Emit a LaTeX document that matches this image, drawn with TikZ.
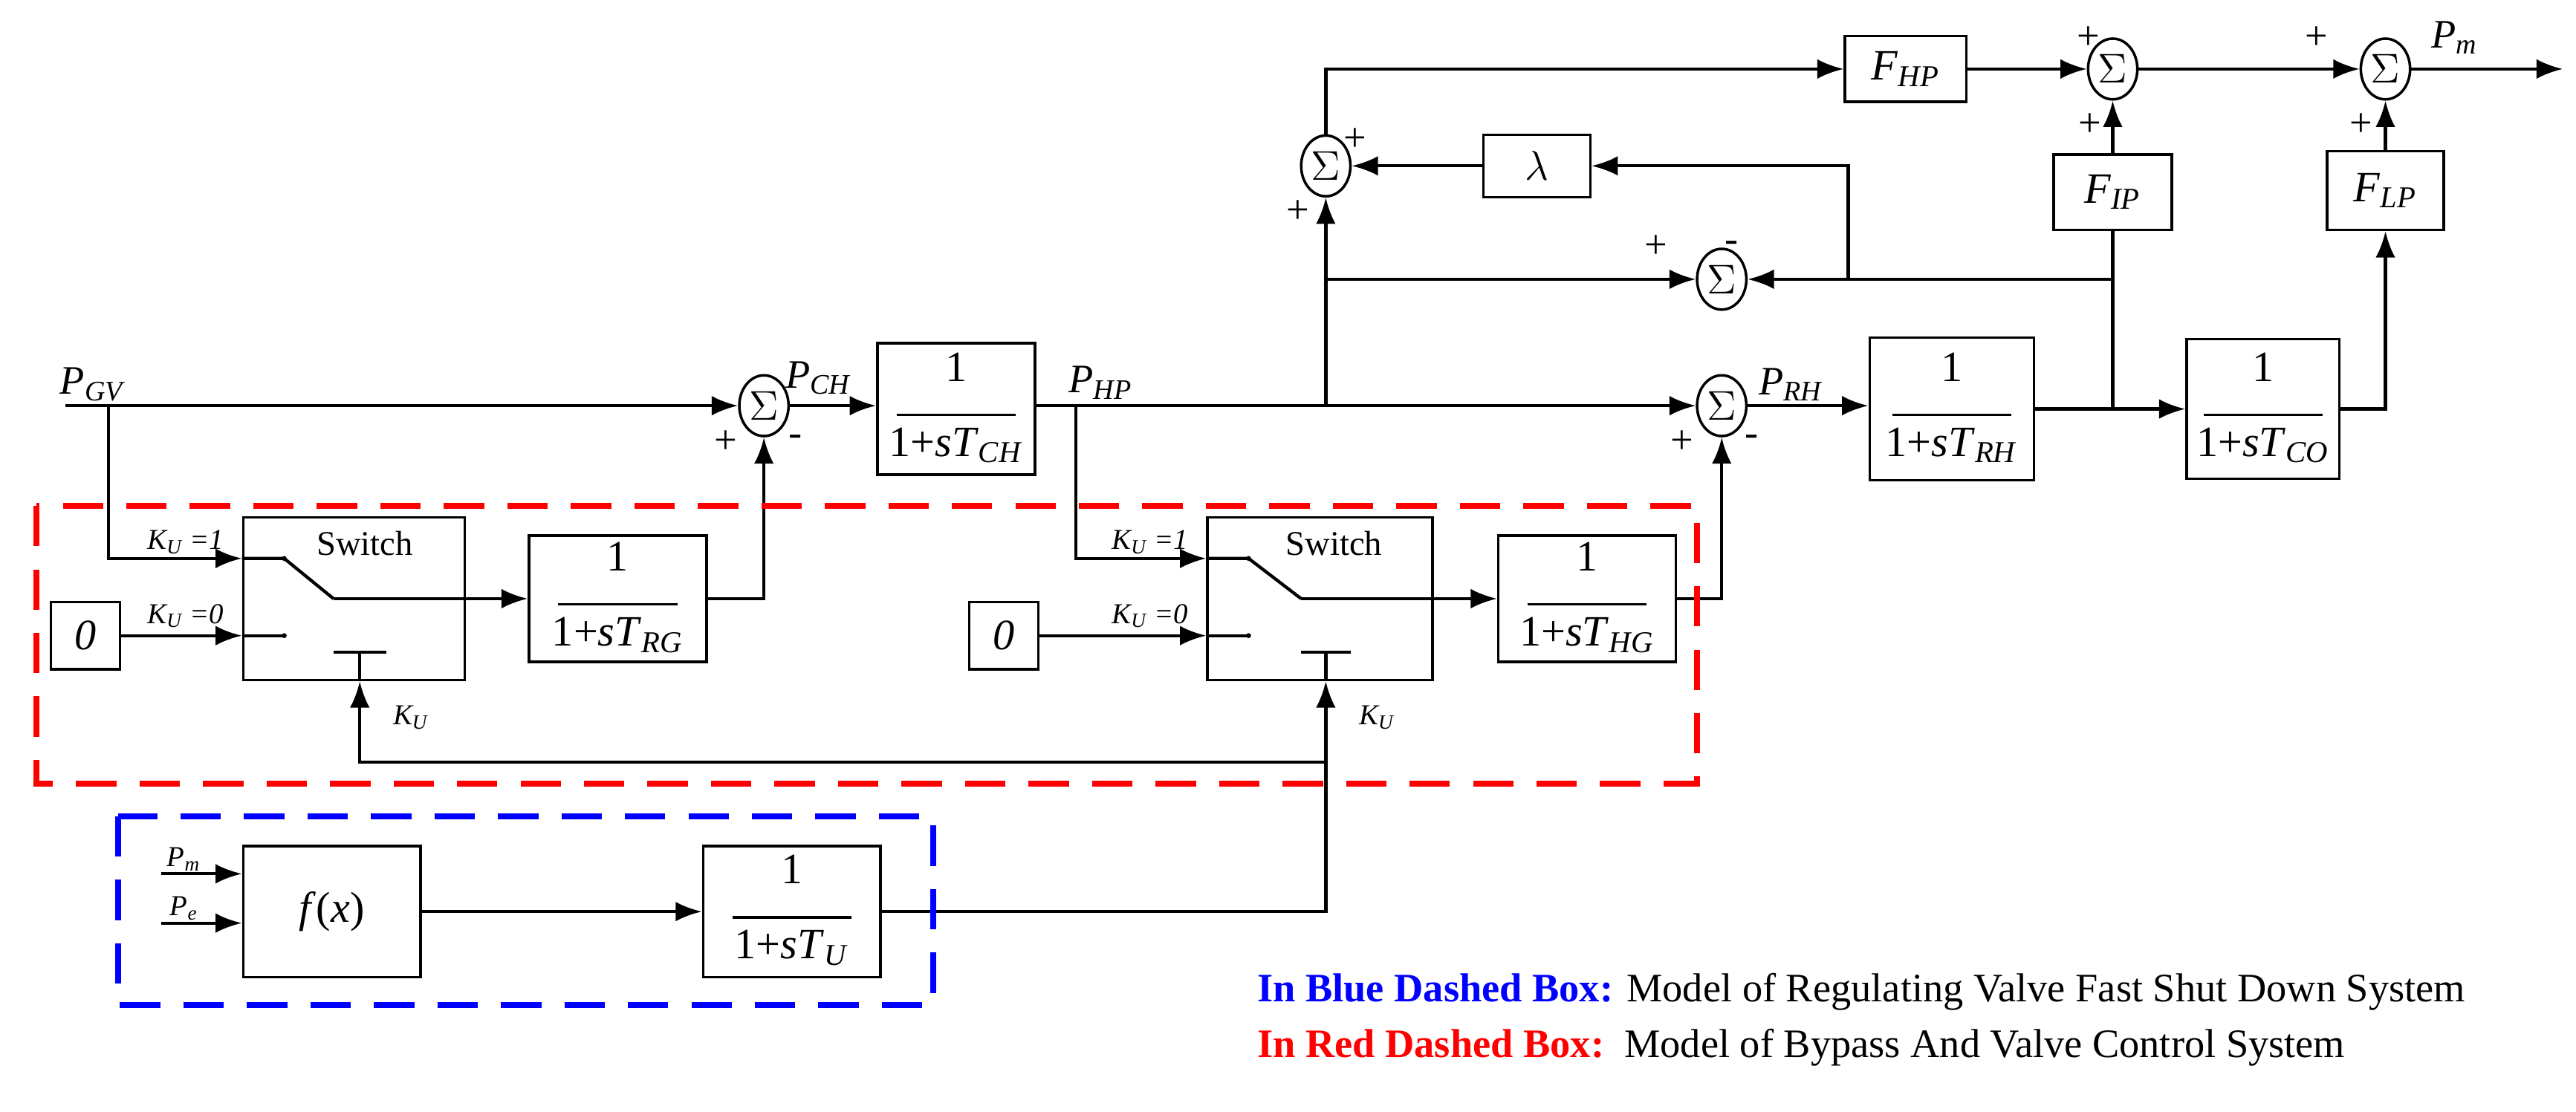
\documentclass[tikz,border=0pt]{standalone}
\usepackage{fontspec}
\setmainfont{Liberation Serif}
\usetikzlibrary{shapes.geometric,arrows.meta}
\newcommand\frc[1]{\begin{tabular}{@{}c@{}}1\\[-5pt]\rule{1.45cm}{0.8pt}\\[-3pt]1+\textit{sT}\textsubscript{\textit{#1}}\end{tabular}}
\begin{document}
\begin{tikzpicture}[x=0.02cm,y=-0.02cm,
  blk/.style={draw,line width=0.9pt,inner sep=0pt,font=\fontsize{15}{17}\selectfont},
  sm/.style={draw,ellipse,line width=0.9pt,minimum width=0.6cm,minimum height=0.74cm,inner sep=0pt,font=\fontsize{14}{16}\selectfont},
  ln/.style={line width=1.1pt},
  ar/.style={line width=1.1pt,-{Latex[length=0.32cm,width=0.24cm]}},
  lab/.style={font=\fontsize{14}{16}\selectfont\itshape,inner sep=1pt},
  sl/.style={font=\fontsize{10}{12}\selectfont\itshape,inner sep=1pt},
  pm/.style={font=\fontsize{14}{16}\selectfont,inner sep=0pt}]
\useasboundingbox (0,0) rectangle (1568,677);
% blocks
\node[blk,minimum width=2.7cm,minimum height=1.98cm] (sw1) at (215.5,364.5) {};
\node[font=\fontsize{12}{14}\selectfont] (swt1) at (222,331) {Switch};
\node[blk,minimum width=2.16cm,minimum height=1.54cm] (rg) at (376,364.5) {\frc{RG}};
\node[blk,minimum width=0.84cm,minimum height=0.82cm] (z1) at (52,387) {\textit{0}};
\node[blk,minimum width=1.92cm,minimum height=1.6cm] (ch) at (582,249) {\frc{CH}};
\node[blk,minimum width=2.74cm,minimum height=1.98cm] (sw2) at (803.5,364.5) {};
\node[font=\fontsize{12}{14}\selectfont] (swt2) at (812,331) {Switch};
\node[blk,minimum width=0.84cm,minimum height=0.82cm] (z2) at (611,387) {\textit{0}};
\node[blk,minimum width=2.16cm,minimum height=1.54cm] (hg) at (966,364.5) {\frc{HG}};
\node[blk,minimum width=2cm,minimum height=1.74cm] (rh) at (1188,249) {\frc{RH}};
\node[blk,minimum width=1.86cm,minimum height=1.7cm] (co) at (1377.5,249) {\frc{CO}};
\node[blk,minimum width=1.48cm,minimum height=0.8cm] (fhp) at (1160,42) {\textit{F}\textsubscript{\textit{HP}}};
\node[blk,minimum width=1.3cm,minimum height=0.76cm] (lam) at (935.5,101) {$\lambda$};
\node[blk,minimum width=1.44cm,minimum height=0.92cm] (fip) at (1286,117) {\textit{F}\textsubscript{\textit{IP}}};
\node[blk,minimum width=1.42cm,minimum height=0.96cm] (flp) at (1452,116) {\textit{F}\textsubscript{\textit{LP}}};
\node[blk,minimum width=2.16cm,minimum height=1.6cm] (fx) at (202,555) {\textit{f}(\textit{x})};
\node[blk,minimum width=2.16cm,minimum height=1.6cm] (tu) at (482,555) {\frc{U}};
% sums
\node[sm] (s1) at (465,247) {$\Sigma$};
\node[sm] (s2) at (1048,247) {$\Sigma$};
\node[sm] (s3) at (807,101) {$\Sigma$};
\node[sm] (s4) at (1048,170) {$\Sigma$};
\node[sm] (s5) at (1286,42) {$\Sigma$};
\node[sm] (s6) at (1452,42) {$\Sigma$};
% coordinates
\coordinate (pgv) at (40,247);
\coordinate (b1) at (66,247);
\coordinate (c1a) at (173,340);
\coordinate (c1b) at (203,364.5);
\coordinate (c1c) at (173,387);
\coordinate (b2) at (655,247);
\coordinate (c2a) at (760,340);
\coordinate (c2b) at (792,364.5);
\coordinate (c2c) at (760,387);
\coordinate (b3) at (807,247);
\coordinate (b4) at (807,170);
\coordinate (j1) at (1125,170);
\coordinate (b5) at (1286,249);
\coordinate (ku) at (807,464);
\coordinate (out) at (1560,42);
\coordinate (pmi) at (98,532);
\coordinate (pei) at (98,562);
% main path
\draw[ar] (pgv) -- (s1.west);
\draw[ar] (s1.east) -- (ch.west |- s1.east);
\draw[ln] (ch.east |- b2) -- (b2);
\draw[ar] (b2) -- (s2.west);
\draw[ar] (s2.east) -- (rh.west |- s2.east);
\draw[ar] (rh.east) -- (co.west);
\draw[ar] (co.east) -| (flp.south);
\draw[ar] (flp.north) -- (s6.south);
\draw[ar] (fip.north) -- (s5.south);
\draw[ar] (s5.east) -- (s6.west);
\draw[ar] (s6.east) -- (out);
\draw[ar] (s3.north) |- (fhp.west);
\draw[ar] (fhp.east) -- (s5.west);
\draw[ar] (b3) -- (s3.south);
\draw[ar] (b4) -- (s4.west);
\draw[ar] (b5) |- (s4.east);
\draw[ln] (fip.south) -- (b5);
\draw[ar] (j1) |- (lam.east);
\draw[ar] (lam.west) -- (s3.east);
% switch 1
\draw[ar] (b1) |- (sw1.west |- c1a);
\draw[ln] (sw1.west |- c1a) -- (c1a) -- (c1b);
\draw[ar] (c1b) -- (rg.west);
\draw[ar] (z1.east |- c1c) -- (sw1.west |- c1c);
\draw[ln] (sw1.west |- c1c) -- (c1c);
\fill (c1a) circle (1.5); \fill (c1c) circle (1.5);
\draw[ln] (203,397) -- (235,397);
\draw[ln] (219,397) -- (sw1.south -| 219,0);
\draw[ar] (ku) -- (219,464) -- (sw1.south -| 219,0);
\draw[ar] (rg.east) -| (s1.south);
% switch 2
\draw[ar] (b2) |- (sw2.west |- c2a);
\draw[ln] (sw2.west |- c2a) -- (c2a) -- (c2b);
\draw[ar] (c2b) -- (hg.west);
\draw[ar] (z2.east |- c2c) -- (sw2.west |- c2c);
\draw[ln] (sw2.west |- c2c) -- (c2c);
\fill (c2a) circle (1.5); \fill (c2c) circle (1.5);
\draw[ln] (792,397) -- (822,397);
\draw[ln] (807,397) -- (sw2.south -| 807,0);
\draw[ar] (hg.east) -| (s2.south);
% blue part
\draw[ar] (pmi) -- (fx.west |- pmi);
\draw[ar] (pei) -- (fx.west |- pei);
\draw[ar] (fx.east) -- (tu.west);
\draw[ar] (tu.east) -| (sw2.south -| 807,0);
% labels
\node[lab] (lpgv) at (56,234) {P\textsubscript{\textit{GV}}};
\node[lab] (lpch) at (498,230) {P\textsubscript{\textit{CH}}};
\node[lab] (lphp) at (670,233) {P\textsubscript{\textit{HP}}};
\node[lab] (lprh) at (1090,234) {P\textsubscript{\textit{RH}}};
\node[lab] (lpm) at (1494,23) {P\textsubscript{\textit{m}}};
\node[sl] (k11) at (113,330) {K\textsubscript{\textit{U}} =\textit{1}};
\node[sl] (k10) at (113,375) {K\textsubscript{\textit{U}} =\textit{0}};
\node[sl] (k21) at (700,330) {K\textsubscript{\textit{U}} =\textit{1}};
\node[sl] (k20) at (700,375) {K\textsubscript{\textit{U}} =\textit{0}};
\node[sl] (ku1) at (250,437) {K\textsubscript{\textit{U}}};
\node[sl] (ku2) at (838,437) {K\textsubscript{\textit{U}}};
\node[sl] (lpmi) at (112,523) {P\textsubscript{\textit{m}}};
\node[sl] (lpei) at (112,553) {P\textsubscript{\textit{e}}};
% signs
\node[pm] at (442,269) {+}; \node[pm] at (484,268) {-};
\node[pm] at (1024,269) {+}; \node[pm] at (1066,268) {-};
\node[pm] at (790,129) {+}; \node[pm] at (825,85) {+};
\node[pm] at (1008,150) {+}; \node[pm] at (1054,150) {-};
\node[pm] at (1271,23) {+}; \node[pm] at (1272,76) {+};
\node[pm] at (1410,23) {+}; \node[pm] at (1437,76) {+};
% dashed boxes
\draw[red,line width=2pt,dash pattern=on 14pt off 8pt] (22,308) rectangle (1033,477);
\draw[blue,line width=2pt,dash pattern=on 14pt off 8pt] (72,497) rectangle (568,612);
% legend
\node[anchor=west,inner sep=0pt,font=\fontsize{14}{16}\selectfont] (lg1) at (765,604) {\textcolor{blue}{\textbf{In Blue Dashed Box:}} Model of Regulating Valve Fast Shut Down System};
\node[anchor=west,inner sep=0pt,font=\fontsize{14}{16}\selectfont] (lg2) at (765,638) {\textcolor{red}{\textbf{In Red Dashed Box:}}\ \ Model of Bypass And Valve Control System};
\end{tikzpicture}
\end{document}
